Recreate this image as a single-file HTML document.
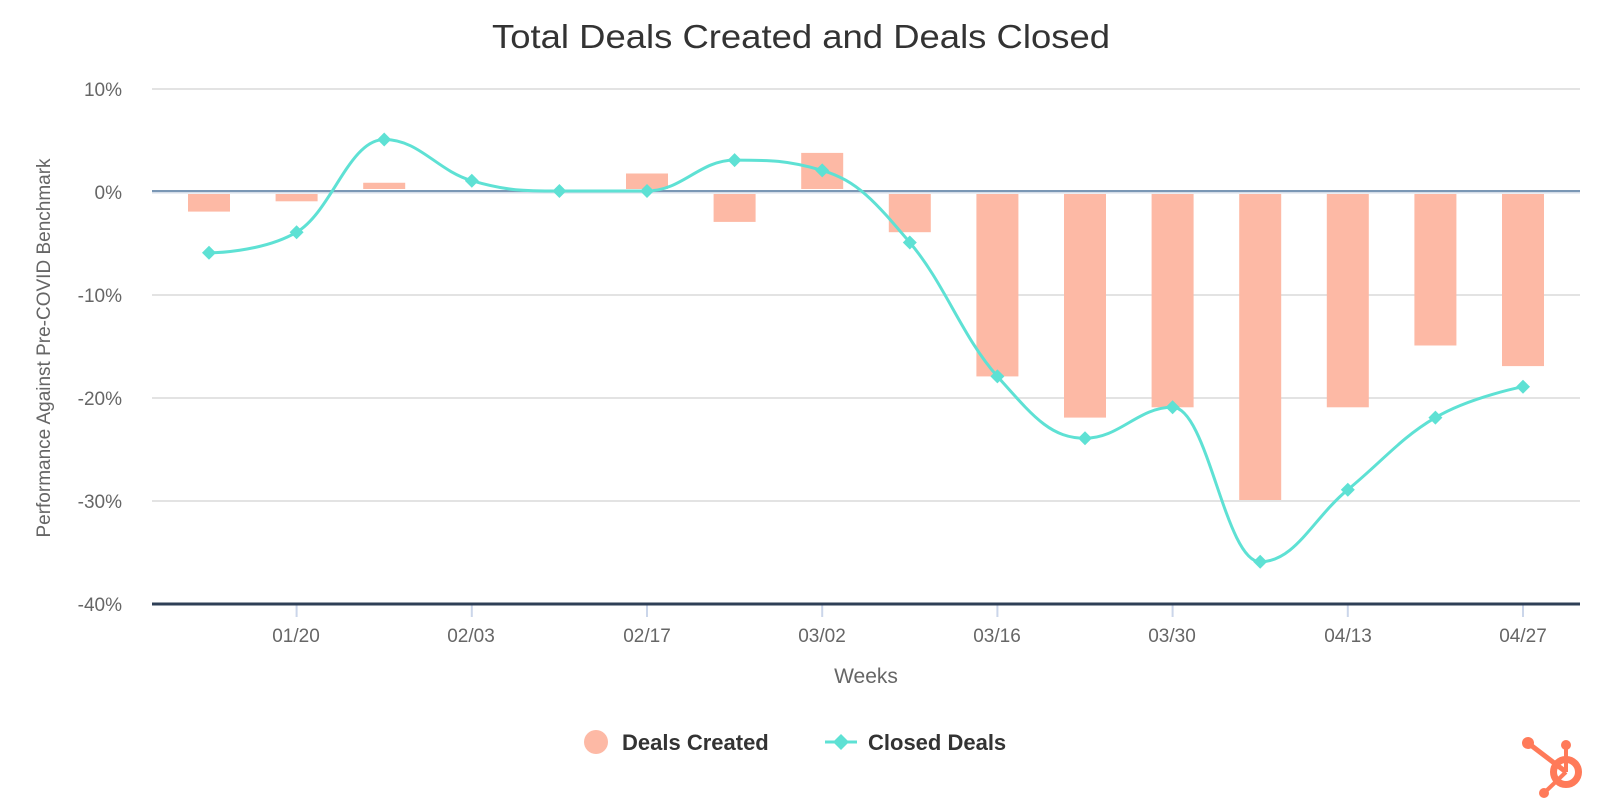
<!DOCTYPE html>
<html><head><meta charset="utf-8"><style>html,body{margin:0;padding:0;background:#fff;width:1600px;height:800px;overflow:hidden}</style></head>
<body>
<svg id="s" width="1600" height="800" xmlns="http://www.w3.org/2000/svg" font-family="Liberation Sans, sans-serif">
<text x="801" y="48" text-anchor="middle" font-size="33" fill="#333" textLength="618" lengthAdjust="spacingAndGlyphs">Total Deals Created and Deals Closed</text>
<g stroke="#e3e3e3" stroke-width="2">
<line x1="152" x2="1580" y1="89" y2="89"/>
<line x1="152" x2="1580" y1="295" y2="295"/>
<line x1="152" x2="1580" y1="398" y2="398"/>
<line x1="152" x2="1580" y1="501" y2="501"/>
</g>
<line x1="152" x2="1580" y1="192" y2="192" stroke="#d5dde8" stroke-width="3"/>
<line x1="152" x2="1580" y1="191" y2="191" stroke="#7a97b5" stroke-width="2"/>
<g font-size="19" fill="#666" text-anchor="end">
<text x="122" y="96">10%</text>
<text x="122" y="199">0%</text>
<text x="122" y="302">-10%</text>
<text x="122" y="405">-20%</text>
<text x="122" y="508">-30%</text>
<text x="122" y="611">-40%</text>
</g>
<text transform="translate(50,348) rotate(-90)" text-anchor="middle" font-size="19" fill="#666">Performance Against Pre-COVID Benchmark</text>
<g id="bars" fill="#fdb9a5"></g>
<g stroke="#cbd6ea" stroke-width="2" id="ticks"></g>
<line x1="152" x2="1580" y1="604" y2="604" stroke="#2e3f56" stroke-width="3"/>
<g font-size="19" fill="#666" text-anchor="middle">
<text x="296" y="642">01/20</text>
<text x="471" y="642">02/03</text>
<text x="647" y="642">02/17</text>
<text x="822" y="642">03/02</text>
<text x="997" y="642">03/16</text>
<text x="1172" y="642">03/30</text>
<text x="1348" y="642">04/13</text>
<text x="1523" y="642">04/27</text>
</g>
<text x="866" y="683" text-anchor="middle" font-size="21" fill="#666">Weeks</text>
<path id="line" fill="none" stroke="#5ee1d4" stroke-width="3"/>
<g id="pts" fill="#5ee1d4"></g>
<circle cx="596" cy="742" r="12" fill="#fdb9a5"/>
<text x="622" y="750" font-size="22" font-weight="bold" fill="#333">Deals Created</text>
<line x1="825" x2="857" y1="742" y2="742" stroke="#5ee1d4" stroke-width="3"/>
<path d="M841 734 L849 742 L841 750 L833 742Z" fill="#5ee1d4"/>
<text x="868" y="750" font-size="22" font-weight="bold" fill="#333">Closed Deals</text>
<g fill="#ff7a59" stroke="#ff7a59">
<line x1="1528" y1="743" x2="1566" y2="772" stroke-width="5"/>
<line x1="1566" y1="745" x2="1566" y2="772" stroke-width="4"/>
<line x1="1544" y1="793" x2="1566" y2="772" stroke-width="4"/>
<circle cx="1528" cy="743" r="6" stroke="none"/>
<circle cx="1566" cy="745" r="5" stroke="none"/>
<circle cx="1544" cy="793" r="5" stroke="none"/>
<circle cx="1566" cy="772" r="12.5" fill="none" stroke-width="7"/>
</g>
</svg>
<script>
var NS="http://www.w3.org/2000/svg";
var dc=[-2,-1,0.8,0,0,1.7,-3,3.7,-4,-18,-22,-21,-30,-21,-15,-17];
var cd=[-6,-4,5,1,0,0,3,2,-5,-18,-24,-21,-36,-29,-22,-19];
function X(i){return 209+87.6*i}
function Y(v){return 191-v*10.3}
var bars=document.getElementById('bars'),pts=document.getElementById('pts'),ticks=document.getElementById('ticks');
for(var i=0;i<16;i++){
 var v=dc[i];
 if(v!=0){var r=document.createElementNS(NS,'rect');
 var y0=v<0?194:Y(v),h=v<0?(Y(v)-194):(189-Y(v));
 r.setAttribute('x',X(i)-21);r.setAttribute('width',42);r.setAttribute('y',y0);r.setAttribute('height',h);bars.appendChild(r);}
 var p=document.createElementNS(NS,'path');var x=X(i),y=Y(cd[i]);
 p.setAttribute('d','M'+x+' '+(y-7)+'L'+(x+7)+' '+y+'L'+x+' '+(y+7)+'L'+(x-7)+' '+y+'Z');pts.appendChild(p);
 if(i%2==1){var l=document.createElementNS(NS,'line');l.setAttribute('x1',x);l.setAttribute('x2',x);l.setAttribute('y1',605);l.setAttribute('y2',617);ticks.appendChild(l);}
}
var P=cd.map(function(v,i){return [X(i),Y(v)]});
// Highcharts-style spline control points
var L=[],R=[];
for(var i=0;i<16;i++){
 if(i==0||i==15){L[i]=P[i].slice();R[i]=P[i].slice();continue;}
 var s=1.5,den=s+1,px=P[i][0],py=P[i][1],lx=P[i-1][0],ly=P[i-1][1],nx=P[i+1][0],ny=P[i+1][1];
 var lcx=(s*px+lx)/den,lcy=(s*py+ly)/den,rcx=(s*px+nx)/den,rcy=(s*py+ny)/den;
 var corr=((rcy-lcy)*(rcx-px))/(rcx-lcx)+py-rcy;
 lcy+=corr;rcy+=corr;
 if(lcy>ly&&lcy>py){lcy=Math.max(ly,py);rcy=2*py-lcy;}
 else if(lcy<ly&&lcy<py){lcy=Math.min(ly,py);rcy=2*py-lcy;}
 if(rcy>ny&&rcy>py){rcy=Math.max(ny,py);lcy=2*py-rcy;}
 else if(rcy<ny&&rcy<py){rcy=Math.min(ny,py);lcy=2*py-rcy;}
 L[i]=[lcx,lcy];R[i]=[rcx,rcy];
}
var d='M'+P[0][0]+' '+P[0][1];
for(var i=0;i<15;i++){
 d+=' C'+R[i][0]+' '+R[i][1]+' '+L[i+1][0]+' '+L[i+1][1]+' '+P[i+1][0]+' '+P[i+1][1];
}
document.getElementById('line').setAttribute('d',d);
</script>
</body></html>
